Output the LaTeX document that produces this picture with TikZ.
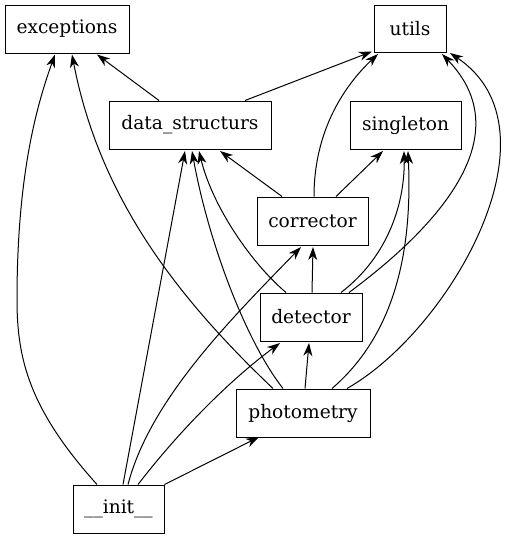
\documentclass[tikz,border=0pt]{standalone}
\usepackage{fontspec}
\setmainfont{DejaVu Serif}
\usetikzlibrary{arrows.meta}
\begin{document}
\begin{tikzpicture}[x=1pt,y=-1pt,
  mod/.style={draw,line width=1pt,inner sep=0pt,font=\fontsize{18.6}{20}\selectfont},
  dep/.style={line width=1pt,-{Stealth[length=13pt,width=9pt,inset=4pt]}}]
\useasboundingbox (0,0) rectangle (505,539);
\node[mod,minimum width=124pt,minimum height=48pt] (exc) at (67,29) {exceptions};
\node[mod,minimum width=72pt,minimum height=47pt] (utl) at (410,28.5) {utils};
\node[mod,minimum width=162pt,minimum height=48pt] (ds) at (190,125) {data\_structurs};
\node[mod,minimum width=111pt,minimum height=48pt] (sgl) at (405.5,125) {singleton};
\node[mod,minimum width=111pt,minimum height=48pt] (cor) at (312.5,221) {corrector};
\node[mod,minimum width=102pt,minimum height=48pt] (det) at (311,317) {detector};
\node[mod,minimum width=134pt,minimum height=48pt] (pho) at (303,413) {photometry};
\node[mod,minimum width=91pt,minimum height=48pt] (ini) at (118.5,509) {\_\_init\_\_};
% data_structurs
\draw[dep] (ds.north west -| 159,0) -- (97,54.5);
\draw[dep] (ds.north west -| 245,0) -- (372,51.5);
% corrector
\draw[dep] (cor.north west -| 282,0) -- (220,151);
\draw[dep] (cor.north west -| 314,0) .. controls (314,130) and (345,85) .. (378,54);
\draw[dep] (cor.north west -| 336,0) -- (383,151);
% detector
\draw[dep] (det.north west -| 312,0) -- (313,247);
\draw[dep] (det.north west -| 286,0) .. controls (250,262) and (212,205) .. (199,151);
\draw[dep] (det.north west -| 341,0) .. controls (390,255) and (405,200) .. (404,151);
\draw[dep] (det.north west -| 349,0) .. controls (440,225) and (520,135) .. (442,54);
% photometry
\draw[dep] (pho.north west -| 305,0) -- (309,343);
\draw[dep] (pho.north west -| 283,0) .. controls (245,340) and (208,240) .. (192,151);
\draw[dep] (pho.north west -| 273,0) .. controls (180,300) and (100,200) .. (72,54.5);
\draw[dep] (pho.north west -| 332,0) .. controls (400,330) and (412,240) .. (408,151);
\draw[dep] (pho.north west -| 347,0) .. controls (450,330) and (565,130) .. (450,53);
% __init__
\draw[dep] (ini.north west -| 97,0) .. controls (30,410) and (17,360) .. (17,300)
  .. controls (17,180) and (35,110) .. (55,54.5);
\draw[dep] (ini.north west -| 123,0) -- (185,151);
\draw[dep] (ini.north west -| 128,0) .. controls (150,400) and (230,320) .. (301,247);
\draw[dep] (ini.north west -| 138,0) .. controls (180,430) and (230,380) .. (280,343);
\draw[dep] (ini.north east) -- (259,437);
\end{tikzpicture}
\end{document}
